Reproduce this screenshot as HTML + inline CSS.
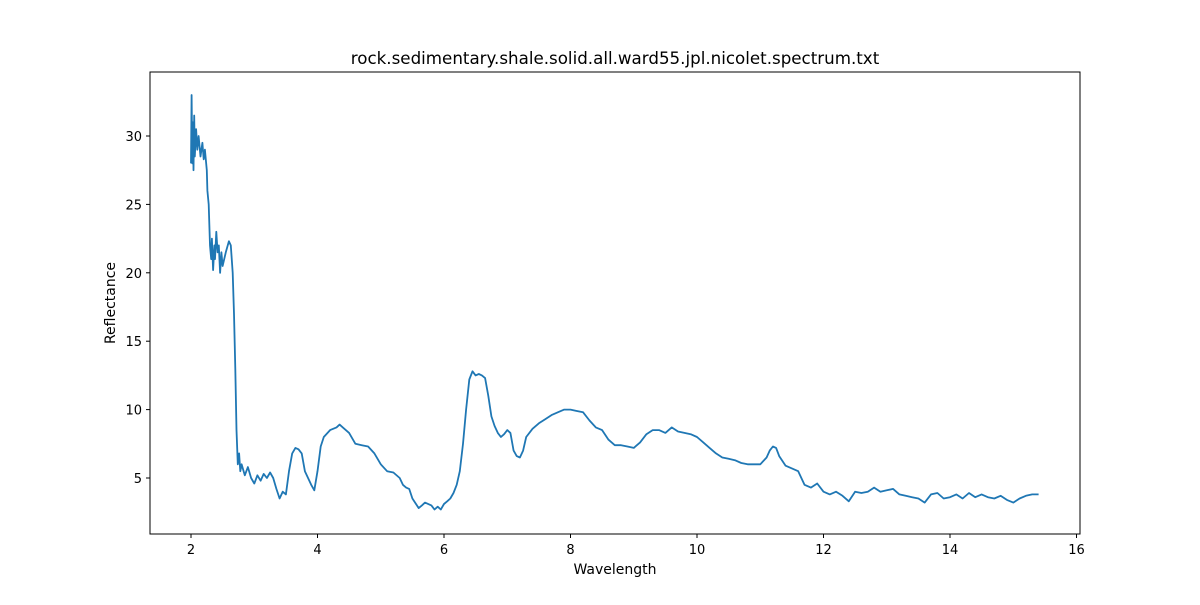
<!DOCTYPE html>
<html><head><meta charset="utf-8"><style>
body{margin:0;background:#fff;font-family:"Liberation Sans","DejaVu Sans",sans-serif}
</style></head><body>
<svg id="chart" width="1200" height="600" xmlns="http://www.w3.org/2000/svg" font-family="'DejaVu Sans','Liberation Sans',sans-serif">
<rect width="1200" height="600" fill="#fff"/>
<text x="615" y="64" text-anchor="middle" font-size="16.7">rock.sedimentary.shale.solid.all.ward55.jpl.nicolet.spectrum.txt</text>
<g id="xt"></g><g id="yt"></g>
<polyline id="line" fill="none" stroke="#1f77b4" stroke-width="1.8" stroke-linejoin="round"/>
<rect x="150" y="72" width="930" height="462" fill="none" stroke="#000" stroke-width="1"/>
<text x="615" y="574" text-anchor="middle" font-size="14">Wavelength</text>
<text transform="translate(115,303) rotate(-90)" text-anchor="middle" font-size="14">Reflectance</text>
</svg>
<script>
const wavelengths=[2.0,2.01,2.02,2.03,2.04,2.05,2.06,2.08,2.1,2.12,2.15,2.18,2.2,2.22,2.25,2.26,2.28,2.3,2.32,2.33,2.35,2.37,2.38,2.4,2.42,2.44,2.46,2.48,2.5,2.55,2.6,2.63,2.66,2.68,2.7,2.72,2.74,2.76,2.78,2.8,2.85,2.9,2.95,3.0,3.05,3.1,3.15,3.2,3.25,3.3,3.35,3.4,3.45,3.5,3.55,3.6,3.65,3.7,3.75,3.8,3.9,3.95,4.0,4.05,4.1,4.2,4.3,4.35,4.4,4.5,4.6,4.7,4.8,4.9,5.0,5.1,5.2,5.3,5.35,5.4,5.45,5.5,5.6,5.65,5.7,5.8,5.85,5.9,5.95,6.0,6.05,6.1,6.15,6.2,6.25,6.3,6.35,6.4,6.45,6.5,6.55,6.6,6.65,6.7,6.75,6.8,6.85,6.9,6.95,7.0,7.05,7.1,7.15,7.2,7.25,7.3,7.4,7.5,7.6,7.7,7.8,7.9,8.0,8.1,8.2,8.3,8.4,8.5,8.6,8.7,8.8,8.9,9.0,9.1,9.2,9.3,9.4,9.5,9.6,9.7,9.8,9.9,10.0,10.1,10.2,10.3,10.4,10.5,10.6,10.7,10.8,10.9,11.0,11.1,11.15,11.2,11.25,11.3,11.4,11.5,11.6,11.7,11.8,11.9,12.0,12.1,12.2,12.3,12.4,12.5,12.6,12.7,12.8,12.9,13.0,13.1,13.2,13.3,13.4,13.5,13.6,13.7,13.8,13.9,14.0,14.1,14.2,14.3,14.4,14.5,14.6,14.7,14.8,14.9,15.0,15.1,15.2,15.3,15.4];
const reflectance=[28,33,28,31,27.5,31.5,28.5,30.5,29,30,28.5,29.5,28.3,29,27.5,26,25,22,21,22.5,20.2,22,21,23,21.5,22,20,21.5,20.5,21.5,22.3,22,20,17,13,8.5,6,6.8,5.5,6,5.2,5.8,5,4.6,5.2,4.8,5.3,5,5.4,5,4.2,3.5,4,3.8,5.5,6.8,7.2,7.1,6.8,5.5,4.5,4.1,5.5,7.3,8.0,8.5,8.7,8.9,8.7,8.3,7.5,7.4,7.3,6.8,6.0,5.5,5.4,5.0,4.5,4.3,4.2,3.5,2.8,3.0,3.2,3.0,2.7,2.9,2.7,3.1,3.3,3.5,3.9,4.5,5.5,7.5,10,12.2,12.8,12.5,12.6,12.5,12.3,11,9.5,8.8,8.3,8.0,8.2,8.5,8.3,7.0,6.6,6.5,7.0,8.0,8.6,9.0,9.3,9.6,9.8,10.0,10.0,9.9,9.8,9.2,8.7,8.5,7.8,7.4,7.4,7.3,7.2,7.6,8.2,8.5,8.5,8.3,8.7,8.4,8.3,8.2,8.0,7.6,7.2,6.8,6.5,6.4,6.3,6.1,6.0,6.0,6.0,6.5,7.0,7.3,7.2,6.6,5.9,5.7,5.5,4.5,4.3,4.6,4.0,3.8,4.0,3.7,3.3,4.0,3.9,4.0,4.3,4.0,4.1,4.2,3.8,3.7,3.6,3.5,3.2,3.8,3.9,3.5,3.6,3.8,3.5,3.9,3.6,3.8,3.6,3.5,3.7,3.4,3.2,3.5,3.7,3.8,3.8];
const xTicks=[2,4,6,8,10,12,14,16];
const yTicks=[5,10,15,20,25,30];
const X=v=>191+(v-2)*63.25;
const Y=v=>546.4-v*13.68;
const NS="http://www.w3.org/2000/svg";
document.getElementById('line').setAttribute('points',wavelengths.map((w,i)=>X(w).toFixed(1)+','+Y(reflectance[i]).toFixed(1)).join(' '));
const xt=document.getElementById('xt'),yt=document.getElementById('yt');
xTicks.forEach(t=>{const l=document.createElementNS(NS,'line');


l.setAttribute('x1',X(t));l.setAttribute('x2',X(t));l.setAttribute('y1',534);l.setAttribute('y2',538);l.setAttribute('stroke','#000');xt.appendChild(l);
const s=document.createElementNS(NS,'text');


s.setAttribute('x',X(t));s.setAttribute('y',554);s.setAttribute('text-anchor','middle');s.setAttribute('font-size','13');s.textContent=t;xt.appendChild(s);});
yTicks.forEach(t=>{const l=document.createElementNS(NS,'line');


l.setAttribute('x1',146);l.setAttribute('x2',150);l.setAttribute('y1',Y(t));l.setAttribute('y2',Y(t));l.setAttribute('stroke','#000');yt.appendChild(l);
const s=document.createElementNS(NS,'text');


s.setAttribute('x',142);s.setAttribute('y',Y(t)+5);s.setAttribute('text-anchor','end');s.setAttribute('font-size','13');s.textContent=t;yt.appendChild(s);});
</script>
</body></html>
